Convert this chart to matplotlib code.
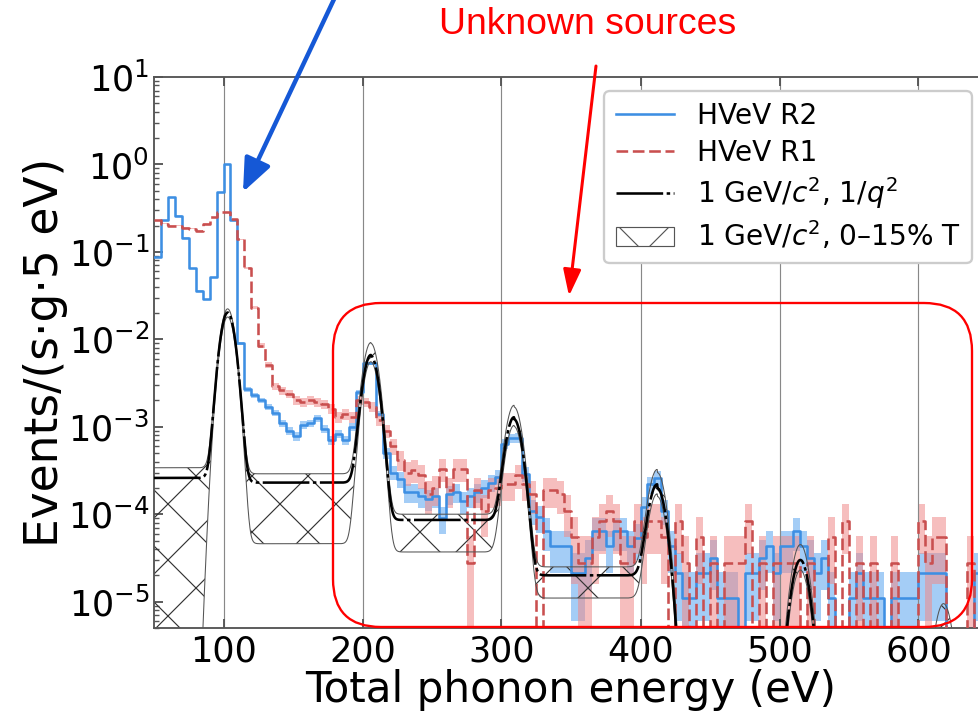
import numpy as np
import matplotlib
matplotlib.use('Agg')
import matplotlib.pyplot as plt
from matplotlib.lines import Line2D
from matplotlib.patches import Patch, FancyBboxPatch, FancyArrowPatch
from matplotlib.ticker import LogLocator
from matplotlib.transforms import IdentityTransform

W, H, DPI = 978, 712, 168

# histogram binning (eV)
bin_lo = 50
bin_w = 5

# HVeV R2 rate per bin, bins start at 50 eV
r2_rate = [
    0.087, 0.23, 0.42, 0.26, 0.146, 0.065, 0.036, 0.0286, 0.051, 0.48,          # 50-95
    1.0, 0.23, 0.009, 0.0027, 0.0023, 0.002, 0.0017, 0.00145, 0.0011, 0.0009,  # 100-145
    0.00078, 0.00105, 0.0011, 0.00126, 0.00095, 0.0007, 0.00083, 0.0007, 0.001, 0.0025,
    0.0053, 0.0053, 0.0014, 0.0005, 0.0003, 0.00025, 0.00018, 0.00018, 0.00016, 0.00015,
    0.00016, 9e-5, 0.00017, 0.00018, 0.00014, 0.00016, 0.00018, 0.0002, 0.00023, 0.00027,
    6.4e-4, 7.4e-4, 7.5e-4, 2.9e-4, 1.1e-4, 9.3e-5, 6.4e-5, 4.3e-5, 4.3e-5, 4.3e-5,   # 300-345
    2.1e-5, 2.1e-5, 3.2e-5, 6.4e-5, 6.4e-5, 4.3e-5, 6.4e-5, 6.4e-5, 4.3e-5, 5.4e-5,
    1.2e-4, 2.2e-4, 2.6e-4, 1.1e-4, 4.3e-5, 2.1e-5, 1.1e-5, 1.1e-5, 2.1e-5, 2.1e-5,   # 400-445
    3.2e-5, 1.1e-5, 1.1e-5, 1.1e-5, 0, 2.1e-5, 2.1e-5, 3.2e-5, 4.3e-5, 2.1e-5,
    4.3e-5, 4.3e-5, 6.4e-5, 4.3e-5, 3.2e-5, 2.1e-5, 3.2e-5, 1.1e-5, 0, 0,              # 500-545
    1.1e-5, 2.1e-5, 1.1e-5, 1.1e-5, 1.1e-5, 0, 1.1e-5, 1.1e-5, 1.1e-5, 1.1e-5,
    2.1e-5, 2.1e-5, 2.1e-5, 2.1e-5, 0, 0, 0, 0, 2.1e-5, 1.1e-5,                        # 600-645
]

# HVeV R1 rate per bin
r1_rate = [
    0.23, 0.21, 0.2, 0.2, 0.19, 0.185, 0.175, 0.21, 0.25, 0.285,                 # 50-95
    0.285, 0.235, 0.14, 0.065, 0.023, 0.0085, 0.0051, 0.0029, 0.0026, 0.0024,    # 100-145
    0.002, 0.0019, 0.002, 0.0019, 0.0018, 0.0016, 0.0013, 0.0014, 0.0013, 0.002,
    0.0019, 0.0017, 0.0012, 0.0009, 0.0006, 0.00042, 0.0003, 0.00032, 0.00028, 0.00017,
    0.0002, 0.00033, 0.00019, 0.00033, 0.00033, 2.8e-5, 0.00019, 0.00011, 0.00019, 0.0002,
    2.2e-4, 2.2e-4, 2.8e-4, 2.2e-4, 1.7e-4, 0, 1.9e-4, 1.9e-4, 1.7e-4, 1.1e-4,         # 300-345
    5.5e-5, 2.8e-5, 2.8e-5, 5.5e-5, 8.3e-5, 1.1e-4, 8.3e-5, 2.8e-5, 2.8e-5, 8.3e-5,
    5.5e-5, 8.3e-5, 8.3e-5, 5.5e-5, 0, 8.3e-5, 2.8e-5, 0, 5.5e-5, 0,                   # 400-445
    2.8e-5, 0, 2.8e-5, 2.8e-5, 2.8e-5, 8.3e-5, 0, 2.8e-5, 0, 2.8e-5,
    2.8e-5, 2.8e-5, 2.8e-5, 0, 2.8e-5, 0, 0, 5.5e-5, 0, 8.3e-5,                        # 500-545
    0, 2.8e-5, 0, 2.8e-5, 0, 0, 2.8e-5, 0, 0, 0,
    8.3e-5, 2.8e-5, 5.5e-5, 5.5e-5, 0, 0, 0, 2.8e-5, 0, 5.5e-5,                        # 600-645
]

# rate of a single event in one bin (sets the poisson band)
r2_unit = 1.07e-5
r1_unit = 2.77e-5

# 1 GeV/c^2 model: peaks at the e-h pair lines, flat level before/between/after them
peak_E = [103, 206, 309, 412, 515, 618]
peak_sigma = [4.4, 4.6, 4.8, 5.0, 5.1, 5.2]
model_peak = [2.0e-2, 6.4e-3, 1.2e-3, 2.0e-4, 3.0e-5, 4e-6]
model_flat = [2.6e-4, 2.3e-4, 8.6e-5, 2.0e-5, 0, 0, 0]
hi_peak = [2.2e-2, 8.9e-3, 1.66e-3, 3.0e-4, 4.5e-5, 9.5e-6]
hi_flat = [3.4e-4, 2.9e-4, 1.0e-4, 2.5e-5, 0, 0, 0]
lo_peak = [1.8e-2, 5.5e-3, 1.0e-3, 1.6e-4, 2.3e-5, 3e-6]
lo_flat = [0, 4.6e-5, 3.7e-5, 1.1e-5, 0, 0, 0]

x_ticks = [100, 200, 300, 400, 500, 600]
y_ticks = [1e-5, 1e-4, 1e-3, 1e-2, 1e-1, 1e0, 1e1]

blue = '#3d8fe3'
blue_band = '#5aa5f0'
red = '#c94f4f'
red_band = '#f08a8a'

plt.rcParams['font.family'] = 'DejaVu Sans'
plt.rcParams['hatch.linewidth'] = 0.5
plt.rcParams['hatch.color'] = '#333333'
plt.rcParams['lines.scale_dashes'] = False

fig = plt.figure(figsize=(W / DPI, H / DPI), dpi=DPI)
# axes box in pixels
ax_l, ax_r, ax_t, ax_b = 154, 988, 77, 628
ax = fig.add_axes([ax_l / W, 1 - ax_b / H, (ax_r - ax_l) / W, (ax_b - ax_t) / H])
ax.set_yscale('log', nonpositive='clip')

edges = bin_lo + bin_w * np.arange(len(r2_rate) + 1)


def step_y(v):
    v = np.asarray(v, float)
    return np.append(v, v[-1])


def pois_band(rate, unit):
    rate = np.asarray(rate, float)
    err = np.sqrt(rate * unit)
    return np.clip(rate - err, 0, None), rate + err


# error bands
lo, hi = pois_band(r2_rate, r2_unit)
ax.fill_between(edges, step_y(lo), step_y(hi), step='post', color=blue_band, alpha=0.55, lw=0, zorder=1)
lo, hi = pois_band(r1_rate, r1_unit)
ax.fill_between(edges, step_y(lo), step_y(hi), step='post', color=red_band, alpha=0.55, lw=0, zorder=1)

ax.step(edges, step_y(r2_rate), where='post', color=blue, lw=1.1, zorder=3)
ax.step(edges, step_y(r1_rate), where='post', color=red, lw=1.1, ls=(0, (5, 2)), zorder=3)

# model curves
E = np.arange(50, 650.01, 0.25)


def model(peaks, flats):
    base = np.asarray(flats, float)[np.searchsorted(peak_E, E)]
    for p, c, s in zip(peaks, peak_E, peak_sigma):
        base = base + p * np.exp(-0.5 * ((E - c) / s) ** 2)
    return base


m_mid = model(model_peak, model_flat)
m_hi = model(hi_peak, hi_flat)
m_lo = model(lo_peak, lo_flat)
ax.fill_between(E, m_lo, m_hi, facecolor='none', edgecolor='#333333', hatch='x', lw=0, zorder=2)
ax.plot(E, m_hi, color='#555555', lw=0.45, zorder=4)
ax.plot(E, m_lo, color='#555555', lw=0.45, zorder=4)
model_ls = (0, (20, 1.5, 1.5, 1.5))
ax.plot(E, m_mid, color='k', lw=1.1, ls=model_ls, zorder=5)

ax.set_xlim(50, 650)
ax.set_ylim(5e-6, 10)
ax.set_xticks(x_ticks)
ax.set_yticks(y_ticks)
ax.yaxis.set_minor_locator(LogLocator(base=10, subs=np.arange(2, 10)))
ax.grid(axis='x', color='#888888', lw=0.5)
ax.tick_params(which='both', direction='in', top=True, right=False, color='#555555')
ax.tick_params(which='major', length=4, labelsize=15)
ax.tick_params(axis='x', pad=3)
ax.tick_params(axis='y', pad=2)
ax.tick_params(which='minor', length=2, labelleft=False)
for s in ax.spines.values():
    s.set_color('#555555')
    s.set_linewidth(0.8)

ax.set_xlabel('Total phonon energy (eV)', fontsize=18, labelpad=0)
ax.set_ylabel('Events/(s·g·5 eV)', fontsize=19.5, labelpad=0)

handles = [
    Line2D([], [], color=blue, lw=1.1),
    Line2D([], [], color=red, lw=1.1, ls=(0, (5, 2))),
    Line2D([], [], color='k', lw=1.1, ls=model_ls),
    Patch(facecolor='white', edgecolor='#555555', hatch='x', lw=0.5),
]
labels = ['HVeV R2', 'HVeV R1', r'1 GeV/$c^2$, $1/q^2$', r'1 GeV/$c^2$, 0–15% T']
ax.legend(handles, labels, loc='upper right',
          bbox_to_anchor=((972 - ax_l) / (ax_r - ax_l), (ax_b - 91) / (ax_b - ax_t)),
          borderaxespad=0, fontsize=12, handlelength=2.1, labelspacing=0.3,
          handletextpad=0.8, framealpha=1)

# annotations drawn in pixel coordinates (y measured from the top)
px = IdentityTransform()


def P(x, y):
    return (x, H - y)


fig.add_artist(FancyBboxPatch(P(333, 627), 972 - 333, 627 - 303,
                              boxstyle='round,pad=0,rounding_size=48',
                              transform=px, fill=False, ec='red', lw=1.0, zorder=10))
fig.add_artist(FancyArrowPatch(P(336, -5), P(243, 192),
                               arrowstyle='-|>,head_length=1.2,head_width=0.5',
                               mutation_scale=10, lw=1.9, color='#1558d6',
                               shrinkA=0, shrinkB=0, transform=px, zorder=10))
fig.add_artist(FancyArrowPatch(P(596, 66), P(569, 296),
                               arrowstyle='-|>,head_length=0.95,head_width=0.32',
                               mutation_scale=10, lw=1.3, color='red',
                               shrinkA=0, shrinkB=0, transform=px, zorder=10))
fig.text(588 / W, 1 - 25 / H, 'Unknown sources', color='red', fontsize=16,
         family=['Liberation Sans', 'DejaVu Sans'], ha='center', va='center')

fig.savefig('out.png', dpi=DPI, facecolor='white')
